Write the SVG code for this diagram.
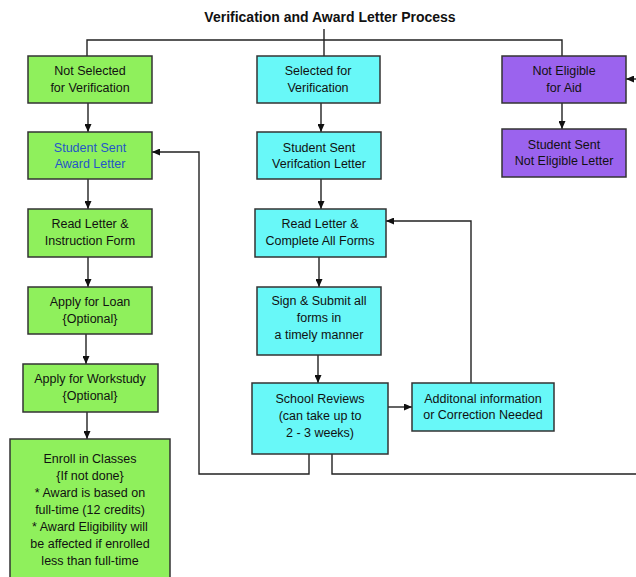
<svg xmlns="http://www.w3.org/2000/svg" width="636" height="577" viewBox="0 0 636 577">
<style>
.box{stroke:#333;stroke-width:1.5}
.g{fill:#8ff05c}
.c{fill:#68f8f8}
.p{fill:#9b63ee}
text{font-family:"Liberation Sans",Arial,sans-serif;font-size:12.5px;fill:#111;text-anchor:middle}
.title{font-size:14px;font-weight:bold}
.blue{fill:#2456c8}
.conn path{fill:none;stroke:#222;stroke-width:1.4}
</style>
<defs>
<marker id="ah" markerUnits="userSpaceOnUse" markerWidth="9" markerHeight="7" refX="8" refY="3.5" orient="auto">
<path d="M0,0 L8,3.5 L0,7 z" fill="#111"/>
</marker>
</defs>
<rect width="636" height="577" fill="#fff"/>
<text class="title" x="330" y="22">Verification and Award Letter Process</text>

<g class="conn">
<path d="M324,29 V56"/>
<path d="M87,56 V40 H562 V56"/>
<path d="M88,103 V132" marker-end="url(#ah)"/>
<path d="M321,103 V132" marker-end="url(#ah)"/>
<path d="M562,103 V129" marker-end="url(#ah)"/>
<path d="M88,179 V209" marker-end="url(#ah)"/>
<path d="M88,257 V287" marker-end="url(#ah)"/>
<path d="M86,334 V364" marker-end="url(#ah)"/>
<path d="M87,412 V439" marker-end="url(#ah)"/>
<path d="M321,179 V209" marker-end="url(#ah)"/>
<path d="M319,257 V287" marker-end="url(#ah)"/>
<path d="M318,355 V383" marker-end="url(#ah)"/>
<path d="M388,407 H412" marker-end="url(#ah)"/>
<path d="M471,383 V221 H386" marker-end="url(#ah)"/>
<path d="M309,454 V474 H199 V152 H152" marker-end="url(#ah)"/>
<path d="M332,454 V474 H640"/>
<path d="M640,79 H626" marker-end="url(#ah)"/>
</g>

<g id="not-selected">
<rect class="box g" x="28" y="56" width="124" height="47"/>
<text x="90" y="75">Not Selected</text>
<text x="90" y="92">for Verification</text>
</g>
<g id="selected">
<rect class="box c" x="257" y="56" width="123" height="47"/>
<text x="318" y="75">Selected for</text>
<text x="318" y="92">Verification</text>
</g>
<g id="not-eligible">
<rect class="box p" x="502" y="56" width="124" height="47"/>
<text x="564" y="75">Not Eligible</text>
<text x="564" y="92">for Aid</text>
</g>

<g id="award-letter">
<rect class="box g" x="28" y="132" width="124" height="47"/>
<text class="blue" x="90" y="152">Student Sent</text>
<text class="blue" x="90" y="168">Award Letter</text>
</g>
<g id="verification-letter">
<rect class="box c" x="257" y="132" width="124" height="47"/>
<text x="319" y="152">Student Sent</text>
<text x="319" y="168">Verifcation Letter</text>
</g>
<g id="not-eligible-letter">
<rect class="box p" x="502" y="129" width="124" height="48"/>
<text x="564" y="149">Student Sent</text>
<text x="564" y="165">Not Eligible Letter</text>
</g>

<g id="read-instruction">
<rect class="box g" x="28" y="209" width="124" height="48"/>
<text x="90" y="228">Read Letter &amp;</text>
<text x="90" y="245">Instruction Form</text>
</g>
<g id="read-complete">
<rect class="box c" x="255" y="209" width="131" height="48"/>
<text x="320" y="228">Read Letter &amp;</text>
<text x="320" y="245">Complete All Forms</text>
</g>

<g id="apply-loan">
<rect class="box g" x="28" y="287" width="124" height="47"/>
<text x="90" y="306">Apply for Loan</text>
<text x="90" y="323">{Optional}</text>
</g>
<g id="sign-submit">
<rect class="box c" x="257" y="287" width="124" height="68"/>
<text x="319" y="305">Sign &amp; Submit all</text>
<text x="319" y="322">forms in</text>
<text x="319" y="339">a timely manner</text>
</g>

<g id="apply-workstudy">
<rect class="box g" x="23" y="364" width="135" height="48"/>
<text x="90" y="383">Apply for Workstudy</text>
<text x="90" y="400">{Optional}</text>
</g>
<g id="school-reviews">
<rect class="box c" x="252" y="383" width="136" height="71"/>
<text x="320" y="403">School Reviews</text>
<text x="320" y="420">(can take up to</text>
<text x="320" y="437">2 - 3 weeks)</text>
</g>
<g id="additional-info">
<rect class="box c" x="412" y="383" width="142" height="48"/>
<text x="483" y="403">Additonal information</text>
<text x="483" y="419">or Correction Needed</text>
</g>

<g id="enroll">
<rect class="box g" x="10" y="439" width="160" height="150"/>
<text x="90" y="463">Enroll in Classes</text>
<text x="90" y="480">{If not done}</text>
<text x="90" y="497">* Award is based on</text>
<text x="90" y="514">full-time (12 credits)</text>
<text x="90" y="531">* Award Eligibility will</text>
<text x="90" y="548">be affected if enrolled</text>
<text x="90" y="565">less than full-time</text>
</g>
</svg>
